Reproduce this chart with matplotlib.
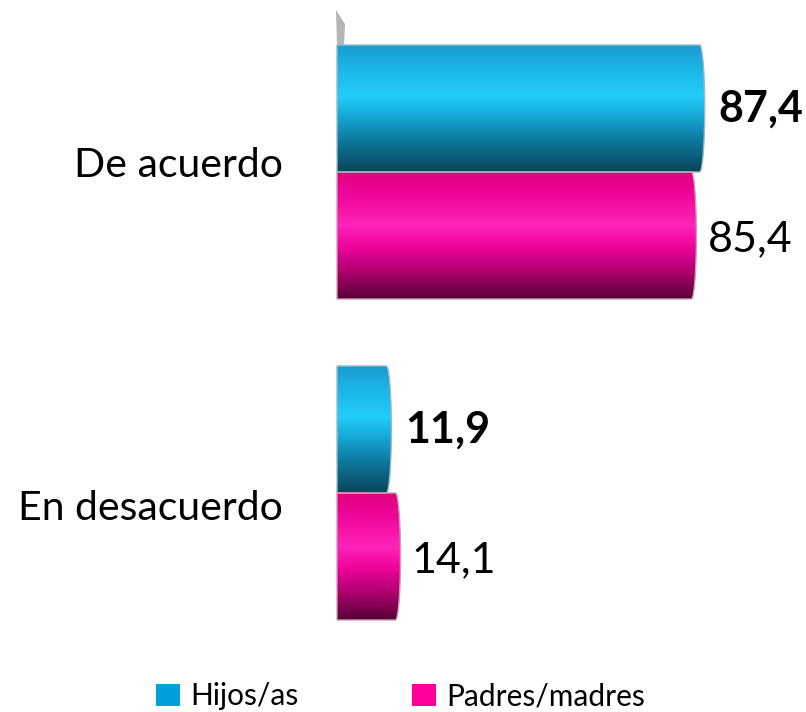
import numpy as np
import matplotlib
matplotlib.use("Agg")
import matplotlib.pyplot as plt
from matplotlib.path import Path
from matplotlib.patches import PathPatch, Patch, Polygon
from matplotlib.colors import LinearSegmentedColormap

plt.rcParams['font.family'] = ['Lato', 'DejaVu Sans']

categories = ["De acuerdo", "En desacuerdo"]
series_names = ["Hijos/as", "Padres/madres"]
hijos = [87.4, 11.9]
padres = [85.4, 14.1]
labels_hijos = ["87,4", "11,9"]
labels_padres = ["85,4", "14,1"]

W, H = 806, 712
fig = plt.figure(figsize=(W / 100, H / 100), dpi=100)
ax = fig.add_axes([0, 0, 1, 1])
ax.set_axis_off()

# pixel scale of the value axis and layout of the plotting area
px_per_unit = 4.15
x0_px = 337
xlim = (-x0_px / px_per_unit, (W - x0_px) / px_per_unit)
cat_px0, cat_step = 172, 321
ylim = ((H - cat_px0) / cat_step, -cat_px0 / cat_step)
bar_h = 127 / cat_step
cap_rx = 5 / px_per_unit

blue_cmap = LinearSegmentedColormap.from_list("blue_cyl", [
    (0.00, "#1a9ccf"), (0.18, "#1cb4e6"), (0.40, "#22cdfa"),
    (0.55, "#17aad8"), (0.75, "#0d7aa0"), (1.00, "#0a4458")])
pink_cmap = LinearSegmentedColormap.from_list("pink_cyl", [
    (0.00, "#e0007f"), (0.18, "#f0069a"), (0.42, "#ff24ba"),
    (0.58, "#f0049e"), (0.78, "#b00070"), (1.00, "#560035")])

grad = np.linspace(0, 1, 256).reshape(-1, 1)


def px_to_data(px, py):
    return ((px - x0_px) / px_per_unit, (py - cat_px0) / cat_step)


def cylinder(value, y_top, y_bot, cmap, edge):
    # bar body with a rounded right cap, filled with a vertical gradient
    t = np.linspace(-np.pi / 2, np.pi / 2, 40)
    yc = (y_top + y_bot) / 2
    ry = (y_bot - y_top) / 2
    cap_x = value + cap_rx * np.cos(t)
    cap_y = yc + ry * np.sin(t)
    verts = [(0, y_top)] + list(zip(cap_x, cap_y)) + [(0, y_bot), (0, y_top)]
    codes = [Path.MOVETO] + [Path.LINETO] * (len(verts) - 2) + [Path.CLOSEPOLY]
    patch = PathPatch(Path(verts, codes), facecolor="none", edgecolor=edge,
                      lw=1.0, zorder=3)
    ax.add_patch(patch)
    im = ax.imshow(grad, cmap=cmap, aspect="auto", origin="upper",
                   extent=(0, value + cap_rx, y_bot, y_top), zorder=2,
                   interpolation="bicubic")
    im.set_clip_path(patch)


label_dy = [-5, 11]  # vertical nudge of category names, in points
for i, cat in enumerate(categories):
    c = i
    cylinder(hijos[i], c - bar_h, c, blue_cmap, "#9fb8c4")
    cylinder(padres[i], c, c + bar_h, pink_cmap, "#c9a0b8")
    ax.annotate(labels_hijos[i], (hijos[i] + cap_rx, c - bar_h / 2),
                xytext=(10, 0), textcoords="offset points",
                ha="left", va="center", fontsize=31, fontweight="bold",
                color="black")
    ax.annotate(labels_padres[i], (padres[i] + cap_rx, c + bar_h / 2),
                xytext=(8, -3), textcoords="offset points",
                ha="left", va="center", fontsize=31, color="black")
    ax.annotate(cat, (0, c), xytext=(-39, -label_dy[i]),
                textcoords="offset points",
                ha="right", va="center", fontsize=29.5, color="black")

# thin wall edge of the 3D plot area
wall = [px_to_data(336, 10), px_to_data(345, 24),
        px_to_data(344, 46), px_to_data(337, 46)]
ax.add_patch(Polygon(wall, closed=True, facecolor="#b5b5b5",
                     edgecolor="none", zorder=1))

ax.set_xlim(*xlim)
ax.set_ylim(*ylim)

handles = [Patch(facecolor="#00a0dc", edgecolor="none"),
           Patch(facecolor="#ff0099", edgecolor="none")]
fig.legend(handles, series_names, loc="center", bbox_to_anchor=(0.497, 0.022),
           ncol=2, frameon=False, fontsize=21.5, handlelength=0.8,
           handleheight=0.8, handletextpad=0.35, columnspacing=3.8)

fig.savefig("out.png", dpi=100)
